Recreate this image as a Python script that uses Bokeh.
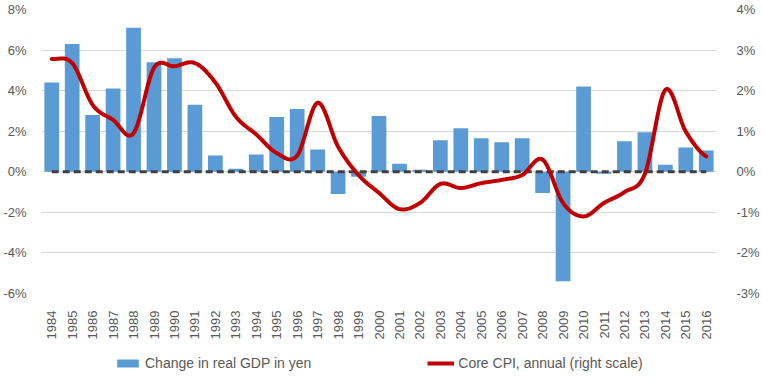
import math
import numpy as np
from bokeh.plotting import figure
from bokeh.layouts import column
from bokeh.models import Range1d, LinearAxis, FixedTicker, Legend, LegendItem
from bokeh.embed import file_html
from bokeh.resources import INLINE

years = [str(y) for y in range(1984, 2017)]
gdp = [4.4, 6.3, 2.8, 4.1, 7.1, 5.4, 5.6, 3.3, 0.8, 0.15, 0.85,
       2.7, 3.1, 1.1, -1.1, -0.25, 2.75, 0.4, 0.1, 1.55, 2.15,
       1.65, 1.45, 1.65, -1.05, -5.4, 4.2, -0.1, 1.5, 1.95, 0.35,
       1.2, 1.05]
cpi = [2.78, 2.68, 1.65, 1.28, 0.95, 2.56, 2.6, 2.68, 2.2, 1.36, 0.92,
       0.46, 0.4, 1.7, 0.62, -0.08, -0.52, -0.92, -0.77, -0.3, -0.4,
       -0.28, -0.2, -0.08, 0.3, -0.77, -1.1, -0.77, -0.5, -0.05, 2.02,
       0.99, 0.38]
left_ticks = [-6, -4, -2, 0, 2, 4, 6, 8]
right_ticks = [-3, -2, -1, 0, 1, 2, 3, 4]
legend_labels = ["Change in real GDP in yen", "Core CPI, annual (right scale)"]

FONT = "Liberation Sans"
TXT = "#595959"
BAR = "#5b9bd5"
RED = "#c00000"

n = len(years)
xc = np.arange(n) + 0.5

# Catmull-Rom smoothing of the CPI series (rendering only)
def smooth(x, y, steps=20):
    x = np.asarray(x, float); y = np.asarray(y, float)
    px = np.concatenate([[2 * x[0] - x[1]], x, [2 * x[-1] - x[-2]]])
    py = np.concatenate([[y[0]], y, [y[-1]]])
    sx, sy = [], []
    for i in range(1, len(px) - 2):
        t = np.linspace(0, 1, steps, endpoint=False)
        for arr, a in ((sx, px), (sy, py)):
            a0, a1, a2, a3 = a[i - 1], a[i], a[i + 1], a[i + 2]
            arr.extend(0.5 * ((2 * a1) + (-a0 + a2) * t +
                              (2 * a0 - 5 * a1 + 4 * a2 - a3) * t ** 2 +
                              (-a0 + 3 * a1 - 3 * a2 + a3) * t ** 3))
    sx.append(x[-1]); sy.append(y[-1])
    return sx, sy

p = figure(frame_width=675, frame_height=284, x_range=Range1d(0, n),
           y_range=Range1d(-6, 8),
           output_backend="svg", toolbar_location=None,
           min_border_left=33, min_border_right=39, min_border_top=9,
           min_border_bottom=42)
p.outline_line_color = None
p.background_fill_color = "white"
p.extra_y_ranges = {"cpi": Range1d(-3, 4)}

# axes
p.xaxis.ticker = FixedTicker(ticks=list(xc))
p.xaxis.major_label_overrides = {float(v): y for v, y in zip(xc, years)}
p.xaxis.major_label_orientation = math.pi / 2
p.yaxis.ticker = FixedTicker(ticks=left_ticks)
p.yaxis.major_label_overrides = {v: f"{v}%" for v in left_ticks}

raxis = LinearAxis(y_range_name="cpi", ticker=FixedTicker(ticks=right_ticks))
raxis.major_label_overrides = {v: f"{v}%" for v in right_ticks}
p.add_layout(raxis, "right")

for ax in p.axis:
    ax.axis_line_color = None
    ax.major_tick_line_color = None
    ax.minor_tick_line_color = None
    ax.major_label_text_font = FONT
    ax.major_label_text_font_size = "13px"
    ax.major_label_text_color = TXT
p.xaxis.major_label_standoff = 11
p.yaxis.major_label_standoff = 9
raxis.major_label_standoff = 14

p.xgrid.grid_line_color = None
p.ygrid.ticker = FixedTicker(ticks=left_ticks)
p.ygrid.grid_line_color = "#d9d9d9"
p.ygrid.grid_line_width = 1

p.vbar(x=xc, top=gdp, bottom=0, width=0.72, fill_color=BAR, line_color=None)
p.line(x=[xc[0], xc[-1]], y=[0, 0], line_color="#404040", line_width=3,
       line_dash="7 4")
sx, sy = smooth(xc, cpi)
p.line(x=sx, y=sy, line_color=RED, line_width=4, y_range_name="cpi",
       line_join="round", line_cap="round")

# legend strip below the chart (zero-size swatch renderers)
q = figure(frame_width=747, frame_height=36, x_range=Range1d(0, 1),
           y_range=Range1d(0, 1), output_backend="svg", toolbar_location=None,
           min_border=0)
q.axis.visible = False
q.grid.visible = False
q.outline_line_color = None
lb = q.vbar(x=[0.5], top=[0.5], bottom=0.5, width=0, fill_color=BAR,
            line_color=None)
ll = q.line(x=[0.5, 0.5], y=[0.5, 0.5], line_color=RED, line_width=4)
legend = Legend(items=[LegendItem(label=legend_labels[0], renderers=[lb]),
                       LegendItem(label=legend_labels[1], renderers=[ll])],
                orientation="horizontal", location=(114, 7), spacing=116,
                glyph_width=27, glyph_height=10, label_standoff=4,
                label_text_font=FONT, label_text_font_size="14px",
                label_text_color=TXT, border_line_color=None,
                background_fill_alpha=0, margin=0, padding=3)
q.add_layout(legend, "center")

open("out.html", "w").write(file_html(column(p, q, spacing=0), INLINE))
